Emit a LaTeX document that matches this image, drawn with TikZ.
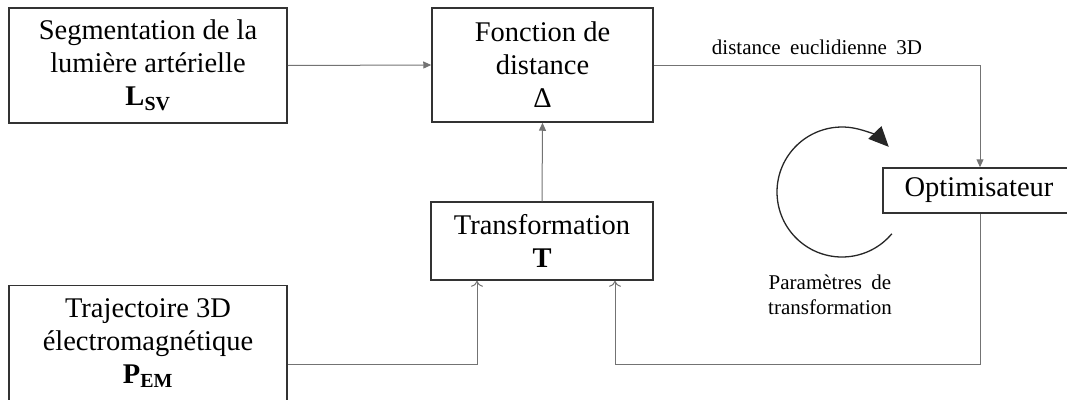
\documentclass[tikz,border=0pt]{standalone}
\usepackage{fontspec}
\setmainfont{Liberation Serif}
\usetikzlibrary{arrows.meta}
\newcommand\lblfont{\fontsize{21}{25}\selectfont\spaceskip=0.45em plus 0.1em\relax}
\begin{document}
\begin{tikzpicture}[x=1pt,y=-1pt,
 box/.style={draw=black!80, line width=1.5pt, align=center, font=\fontsize{28.5}{33}\selectfont, inner sep=0pt},
 conn/.style={draw=black!55, line width=1pt},
 farrow/.style={-{Triangle[length=8pt,width=7pt]}},
 oarrow/.style={-{To[length=6pt,width=12pt]}},
 small/.style={font=\lblfont, align=center, inner sep=0pt}]
\useasboundingbox (0,0) rectangle (1067,399);
\node[box, minimum width=278pt, minimum height=115pt] (seg) at (148,65.5) {Segmentation de la\\lumière artérielle\\\textbf{L}\textsubscript{\textbf{SV}}};
\node[box, minimum width=221pt, minimum height=114pt] (fd) at (542.5,65) {Fonction de\\distance\\Δ};
\node[box, minimum width=222pt, minimum height=78pt] (tr) at (542,241) {Transformation\\\textbf{T}};
\node[box, minimum width=278pt, minimum height=115pt] (pem) at (148,343) {Trajectoire 3D\\électromagnétique\\\textbf{P}\textsubscript{\textbf{EM}}};
\node[box, minimum width=192pt, minimum height=45pt] (opt) at (979,190.5) {Optimisateur};
\node[small] (dl) at (817,47) {distance euclidienne 3D};
\node[small] (pl) at (830,295) {Paramètres de\\transformation};
\draw[conn, farrow] (seg.east) -- (fd.west);
\draw[conn, farrow] (tr.north) -- (fd.south);
\coordinate (c1) at (980,65);
\draw[conn, farrow] (fd.east) -- (c1) -- (c1 |- opt.north);
\coordinate (c2) at (477,364);
\draw[conn, oarrow] (pem.east |- c2) -- (c2) -- (c2 |- tr.south);
\coordinate (c3) at (980,364);
\coordinate (c4) at (615,364);
\draw[conn, oarrow] (c3 |- opt.south) -- (c3) -- (c4) -- (c4 |- tr.south);
\coordinate (cc) at (842,192);
\draw[black!85, line width=1.3pt, -{Triangle[length=20pt,width=18pt]}] (cc) ++(40:65) arc[start angle=40, end angle=316, radius=65];
\end{tikzpicture}
\end{document}
